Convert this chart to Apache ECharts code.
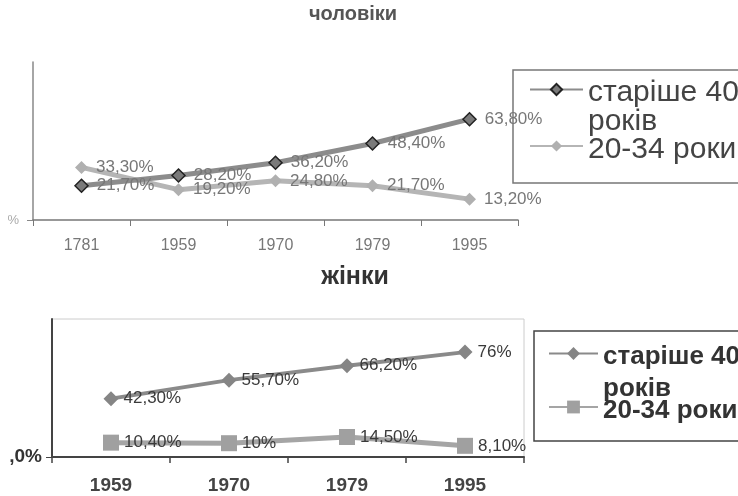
<!DOCTYPE html>
<html>
<head>
<meta charset="utf-8">
<script src="https://cdn.jsdelivr.net/npm/echarts@6/dist/echarts.min.js"></script>
<style>
  html, body { margin: 0; padding: 0; background: #fff; }
  #chart { width: 738px; height: 496px; }
</style>
</head>
<body>
<div id="chart"></div>
<script>
// data
var years1 = ['1781', '1959', '1970', '1979', '1995'];
var older1 = [21.7, 28.2, 36.2, 48.4, 63.8];
var young1 = [33.3, 19.2, 24.8, 21.7, 13.2];

var years2 = ['1959', '1970', '1979', '1995'];
var older2 = [42.3, 55.7, 66.2, 76];
var young2 = [10.4, 10, 14.5, 8.1];

var groups = ['старіше 40 років', '20-34 роки'];
var titles = ['чоловіки', 'жінки'];

var font = 'Liberation Sans, Arial, sans-serif';
var narrow = 'Liberation Sans Narrow, Arial Narrow, sans-serif';

// series names get a prefix so both legends keep their own icons
function sname(panel, i) { return panel + '|' + groups[i]; }

function pct(v) {
    if (Math.round(v) === v) return v + '%';
    return v.toFixed(2).replace('.', ',') + '%';
}

// first group wraps after "40", icon stays on the first line
function legendText(name) {
    var n = name.split('|')[1];
    if (n === groups[0]) {
        var k = n.lastIndexOf(' ');
        return '{a|' + n.slice(0, k) + '}\n{b|' + n.slice(k + 1) + '}';
    }
    return '{a|' + n + '}';
}

var chart = echarts.init(document.getElementById('chart'));

var option = {
    animation: false,
    backgroundColor: '#fff',
    title: [
        {
            text: titles[0], left: 353, top: 4, textAlign: 'center', padding: 0,
            textStyle: { fontFamily: font, fontSize: 20, fontWeight: 'bold', color: '#555' }
        },
        {
            text: titles[1], left: 355, top: 265, textAlign: 'center', padding: 0,
            textStyle: { fontFamily: font, fontSize: 25, fontWeight: 'bold', color: '#333' }
        }
    ],
    legend: [
        {
            orient: 'vertical',
            left: 513, top: 70,
            padding: [0, 10, 18, 16],
            borderColor: '#777', borderWidth: 1.5,
            itemWidth: 53, itemHeight: 14, itemGap: -10,
            data: [sname('m', 0), sname('m', 1)],
            formatter: legendText,
            textStyle: {
                fontFamily: font, fontSize: 30, color: '#444',
                rich: {
                    a: { fontFamily: font, fontSize: 30, lineHeight: 32, padding: [8, 0, 0, 0], color: '#444' },
                    b: { fontFamily: font, fontSize: 30, lineHeight: 1, padding: [2, 0, 0, 0], verticalAlign: 'top', color: '#444' }
                }
            }
        },
        {
            orient: 'vertical',
            left: 534, top: 331,
            padding: [5, 10, 17, 14],
            borderColor: '#444', borderWidth: 1.5,
            itemWidth: 49, itemHeight: 16, itemGap: -12,
            data: [sname('f', 0), sname('f', 1)],
            formatter: legendText,
            textStyle: {
                fontFamily: font, fontSize: 26, fontWeight: 'bold', color: '#333',
                rich: {
                    a: { fontFamily: font, fontSize: 26, fontWeight: 'bold', lineHeight: 30, padding: [8, 0, 0, 0], color: '#333' },
                    b: { fontFamily: font, fontSize: 26, fontWeight: 'bold', lineHeight: 1, padding: [8, 0, 0, 0], verticalAlign: 'top', color: '#333' }
                }
            }
        }
    ],
    grid: [
        { left: 33, right: 220, top: 62, bottom: 276 },
        { left: 52, right: 214, top: 319, bottom: 39, show: true, borderColor: '#ccc', borderWidth: 1 }
    ],
    xAxis: [
        {
            type: 'category', gridIndex: 0, data: years1,
            axisLine: { lineStyle: { color: '#777', width: 1.5 } },
            axisTick: { show: true, length: 6, lineStyle: { color: '#777' } },
            axisLabel: { margin: 18, fontFamily: font, fontSize: 16, color: '#777' }
        },
        {
            type: 'category', gridIndex: 1, data: years2,
            axisLine: { lineStyle: { color: '#444', width: 2 } },
            axisTick: { show: true, length: 6, lineStyle: { color: '#444', width: 1.5 } },
            axisLabel: { margin: 19, fontFamily: narrow, fontSize: 19, fontWeight: 'bold', color: '#444' }
        }
    ],
    yAxis: [
        {
            type: 'value', gridIndex: 0, min: 0, max: 100,
            splitLine: { show: false },
            axisLine: { show: true, lineStyle: { color: '#888', width: 1.5 } },
            axisTick: { show: true, length: 6, customValues: [0], lineStyle: { color: '#888' } },
            axisLabel: {
                margin: 14, fontFamily: font, fontSize: 13, color: '#aaa',
                customValues: [0],
                formatter: function (v) { return v === 0 ? '%' : ''; }
            }
        },
        {
            type: 'value', gridIndex: 1, min: 0, max: 100,
            splitLine: { show: false },
            axisLine: { show: true, lineStyle: { color: '#444', width: 2 } },
            axisTick: { show: true, length: 6, customValues: [0], lineStyle: { color: '#444' } },
            axisLabel: {
                margin: 10, fontFamily: font, fontSize: 19, fontWeight: 'bold', color: '#333',
                customValues: [0],
                formatter: function (v) { return v === 0 ? ',0%' : ''; }
            }
        }
    ],
    series: [
        {
            name: sname('m', 0), type: 'line', xAxisIndex: 0, yAxisIndex: 0,
            data: older1, symbol: 'diamond', symbolSize: 13,
            lineStyle: { color: '#8c8c8c', width: 5 },
            itemStyle: { color: '#7a7a7a', borderColor: '#222', borderWidth: 1.5 },
            label: {
                show: true, position: 'right', distance: 8,
                fontFamily: font, fontSize: 17, color: '#777',
                formatter: function (p) { return pct(p.value); }
            },
            z: 3
        },
        {
            name: sname('m', 1), type: 'line', xAxisIndex: 0, yAxisIndex: 0,
            data: young1, symbol: 'diamond', symbolSize: 13,
            lineStyle: { color: '#b5b5b5', width: 5 },
            itemStyle: { color: '#b0b0b0' },
            label: {
                show: true, position: 'right', distance: 8,
                fontFamily: font, fontSize: 17, color: '#777',
                formatter: function (p) { return pct(p.value); }
            },
            z: 2
        },
        {
            name: sname('f', 0), type: 'line', xAxisIndex: 1, yAxisIndex: 1,
            data: older2, symbol: 'diamond', symbolSize: 15,
            lineStyle: { color: '#8a8a8a', width: 4 },
            itemStyle: { color: '#858585' },
            label: {
                show: true, position: 'right', distance: 5,
                fontFamily: font, fontSize: 17, color: '#3a3a3a',
                formatter: function (p) { return pct(p.value); }
            }
        },
        {
            name: sname('f', 1), type: 'line', xAxisIndex: 1, yAxisIndex: 1,
            data: young2, symbol: 'rect', symbolSize: 16,
            lineStyle: { color: '#a5a5a5', width: 5 },
            itemStyle: { color: '#a0a0a0' },
            label: {
                show: true, position: 'right', distance: 5,
                fontFamily: font, fontSize: 17, color: '#3a3a3a',
                formatter: function (p) { return pct(p.value); }
            }
        }
    ]
};

chart.setOption(option);
</script>
</body>
</html>
